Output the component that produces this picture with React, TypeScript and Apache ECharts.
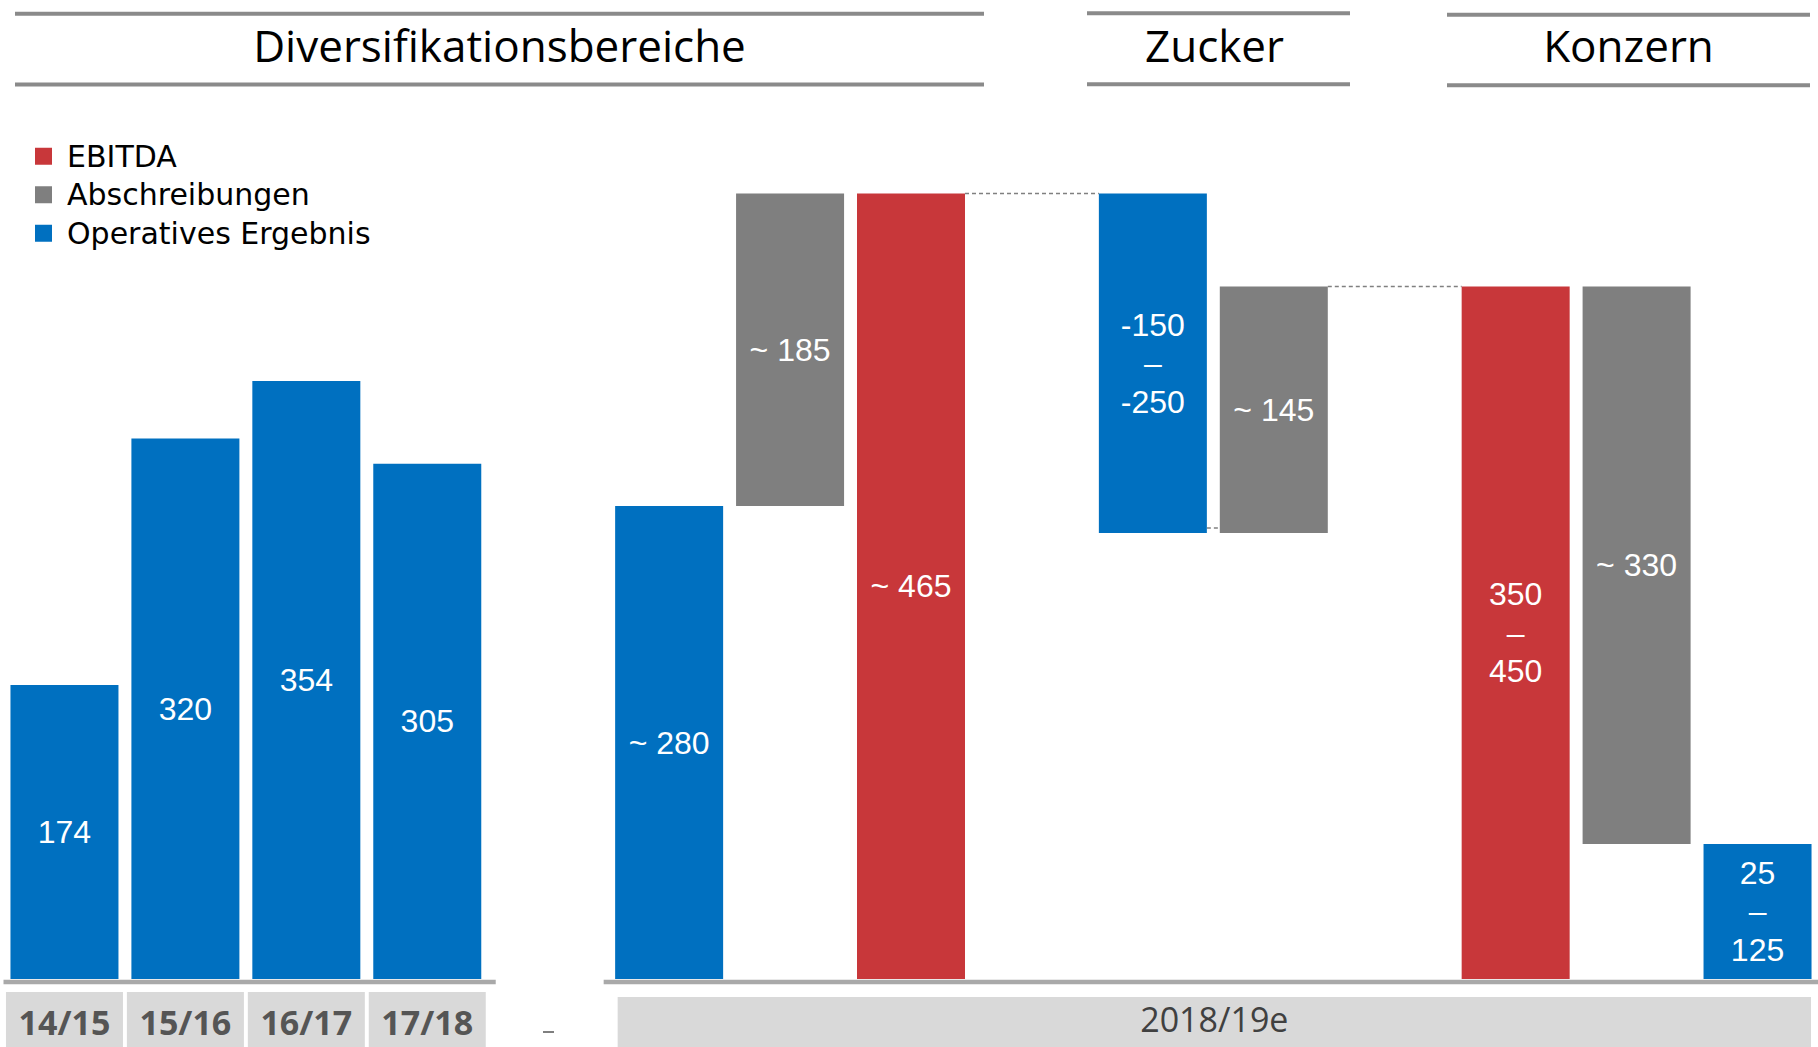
import React, { useEffect, useRef } from "react";
import * as echarts from "echarts";

// ---------- data ----------
const categories = [
  "14/15", "15/16", "16/17", "17/18", "gap1",
  "div-oe", "div-ab", "div-ebitda", "gap2",
  "zu-oe", "zu-ab", "gap3",
  "ko-ebitda", "ko-ab", "ko-oe",
];
const historyLabels = ["14/15", "15/16", "16/17", "17/18"];
const forecastLabel = "2018/19e";
const legendNames = ["EBITDA", "Abschreibungen", "Operatives Ergebnis"];
const sectionTitles = ["Diversifikationsbereiche", "Zucker", "Konzern"];

// invisible offsets for the floating (waterfall) bars
const baseValues = [0, 0, 0, 0, 0, 0, 280, 0, 0, 264, 264, 0, 0, 80, 0];
const operativesErgebnis = [174, 320, 354, 305, 0, 280, 0, 0, 0, 201, 0, 0, 0, 0, 80];
const abschreibungen = [0, 0, 0, 0, 0, 0, 185, 0, 0, 0, 146, 0, 0, 330, 0];
const ebitda = [0, 0, 0, 0, 0, 0, 0, 465, 0, 0, 0, 0, 410, 0, 0];
const barLabels = [
  "174", "320", "354", "305", "",
  "~ 280", "~ 185", "~ 465", "",
  "-150\n–\n-250", "~ 145", "",
  "350\n–\n450", "~ 330", "25\n–\n125",
];
// dashed connectors: [from category, to category, value]
const connectors: [number, number, number][] = [
  [7, 9, 465],
  [10, 12, 410],
  [9, 10, 267],
];

// ---------- style ----------
const W = 1818;
const H = 1047;
const FONT = "'Open Sans', 'DejaVu Sans', sans-serif";
const LABEL_FONT = "'Liberation Sans', Arial, sans-serif";
const LEGEND_FONT = "'DejaVu Sans', sans-serif";
const BLUE = "#0070c0";
const RED = "#c8373a";
const GRAY = "#7f7f7f";
const BOX = "#d9d9d9";
const BAR_W = 108;

const labelStyle = {
  show: true,
  position: "inside" as const,
  color: "#ffffff",
  fontFamily: LABEL_FONT,
  fontSize: 32,
  lineHeight: 38.5,
  formatter: (p: any) => (p.value > 0 ? barLabels[p.dataIndex] : ""),
};

export default function App() {
  const ref = useRef<HTMLDivElement>(null);

  useEffect(() => {
    document.body.style.margin = "0";
    const chart = echarts.init(ref.current!, null, { renderer: "svg" });
    chart.setOption({
      animation: false,
      backgroundColor: "#ffffff",
      grid: { left: 4, top: 134.5, width: 1815, height: 844.5 },
      xAxis: {
        type: "category",
        data: categories,
        axisLine: { show: false },
        axisTick: { show: false },
        axisLabel: { show: false },
        splitLine: { show: false },
      },
      yAxis: {
        type: "value",
        min: 0,
        max: 500,
        show: false,
        splitLine: { show: false },
      },
      legend: {
        data: legendNames,
        orient: "vertical",
        left: 35,
        top: 137,
        padding: 0,
        itemWidth: 17,
        itemHeight: 17,
        itemGap: 0,
        icon: "rect",
        selectedMode: false,
        textStyle: {
          fontFamily: LEGEND_FONT,
          fontSize: 30,
          color: "#000000",
          lineHeight: 38.5,
          padding: [0, 0, 0, 10],
        },
      },
      series: [
        {
          name: "base",
          type: "bar",
          stack: "w",
          barWidth: BAR_W,
          silent: true,
          itemStyle: { color: "rgba(0,0,0,0)" },
          data: baseValues,
        },
        {
          name: "Operatives Ergebnis",
          type: "bar",
          stack: "w",
          barWidth: BAR_W,
          itemStyle: { color: BLUE },
          label: labelStyle,
          data: operativesErgebnis,
        },
        {
          name: "Abschreibungen",
          type: "bar",
          stack: "w",
          barWidth: BAR_W,
          itemStyle: { color: GRAY },
          label: labelStyle,
          data: abschreibungen,
        },
        {
          name: "EBITDA",
          type: "bar",
          stack: "w",
          barWidth: BAR_W,
          itemStyle: { color: RED },
          label: labelStyle,
          data: ebitda,
        },
      ],
    });

    const px = (i: number, v: number) =>
      chart.convertToPixel({ gridIndex: 0 }, [i, v]) as number[];
    const slot = px(1, 0)[0] - px(0, 0)[0];
    const half = slot / 2;
    const baseY = px(0, 0)[1];

    const graphic: any[] = [];
    const hline = (x1: number, x2: number, y: number, w = 4, c = "#8a8a8a") =>
      graphic.push({
        type: "line",
        shape: { x1, y1: y, x2, y2: y },
        style: { stroke: c, lineWidth: w },
      });
    const text = (t: string, x: number, y: number, size: number, color: string, weight = "normal") =>
      graphic.push({
        type: "text",
        x,
        y,
        style: {
          text: t,
          fontFamily: FONT,
          fontSize: size,
          fontWeight: weight,
          fill: color,
          align: "center",
          verticalAlign: "middle",
        },
      });

    // section headers
    const headers: [number, number, number, number][] = [
      [15, 984, 13.7, 84.5],
      [1087, 1350, 13.3, 84.3],
      [1447, 1810, 14.7, 85.3],
    ];
    headers.forEach(([x1, x2, y1, y2], k) => {
      hline(x1, x2, y1);
      hline(x1, x2, y2);
      text(sectionTitles[k], (x1 + x2) / 2 - (k === 1 ? 4 : 0), 45, 44, "#000000");
    });

    // baseline (axis) segments
    hline(3.5, px(3, 0)[0] + half + 8, baseY + 3, 4.5, "#a9a9a9");
    hline(px(5, 0)[0] - half - 5, W, baseY + 3, 4.5, "#a9a9a9");

    // category boxes
    historyLabels.forEach((lab, i) => {
      const cx = px(i, 0)[0];
      graphic.push({
        type: "rect",
        shape: { x: cx - 58.5, y: baseY + 13, width: 117, height: H - baseY - 13 },
        style: { fill: BOX },
      });
      text(lab, cx, baseY + 43, 34, "#555555", "bold");
    });
    const fx1 = px(5, 0)[0] - half + 9;
    const fx2 = px(14, 0)[0] + half - 7;
    graphic.push({
      type: "rect",
      shape: { x: fx1, y: baseY + 18, width: fx2 - fx1, height: 50 },
      style: { fill: BOX },
    });
    text(forecastLabel, (fx1 + fx2) / 2, baseY + 40, 34, "#404040");

    // tiny mark between the two parts
    hline(543, 554, 1032, 1.5, "#555555");

    // dashed connectors
    connectors.forEach(([a, b, v]) => {
      const pa = px(a, v);
      const pb = px(b, v);
      graphic.push({
        type: "line",
        shape: { x1: pa[0] + BAR_W / 2, y1: pa[1], x2: pb[0] - BAR_W / 2, y2: pb[1] },
        style: { stroke: "#808080", lineWidth: 1.5, lineDash: [4, 3] },
      });
    });

    chart.setOption({ graphic });

    return () => chart.dispose();
  }, []);

  return (
    <div
      ref={ref}
      style={{ position: "fixed", left: 0, top: 0, width: W, height: H }}
    />
  );
}
